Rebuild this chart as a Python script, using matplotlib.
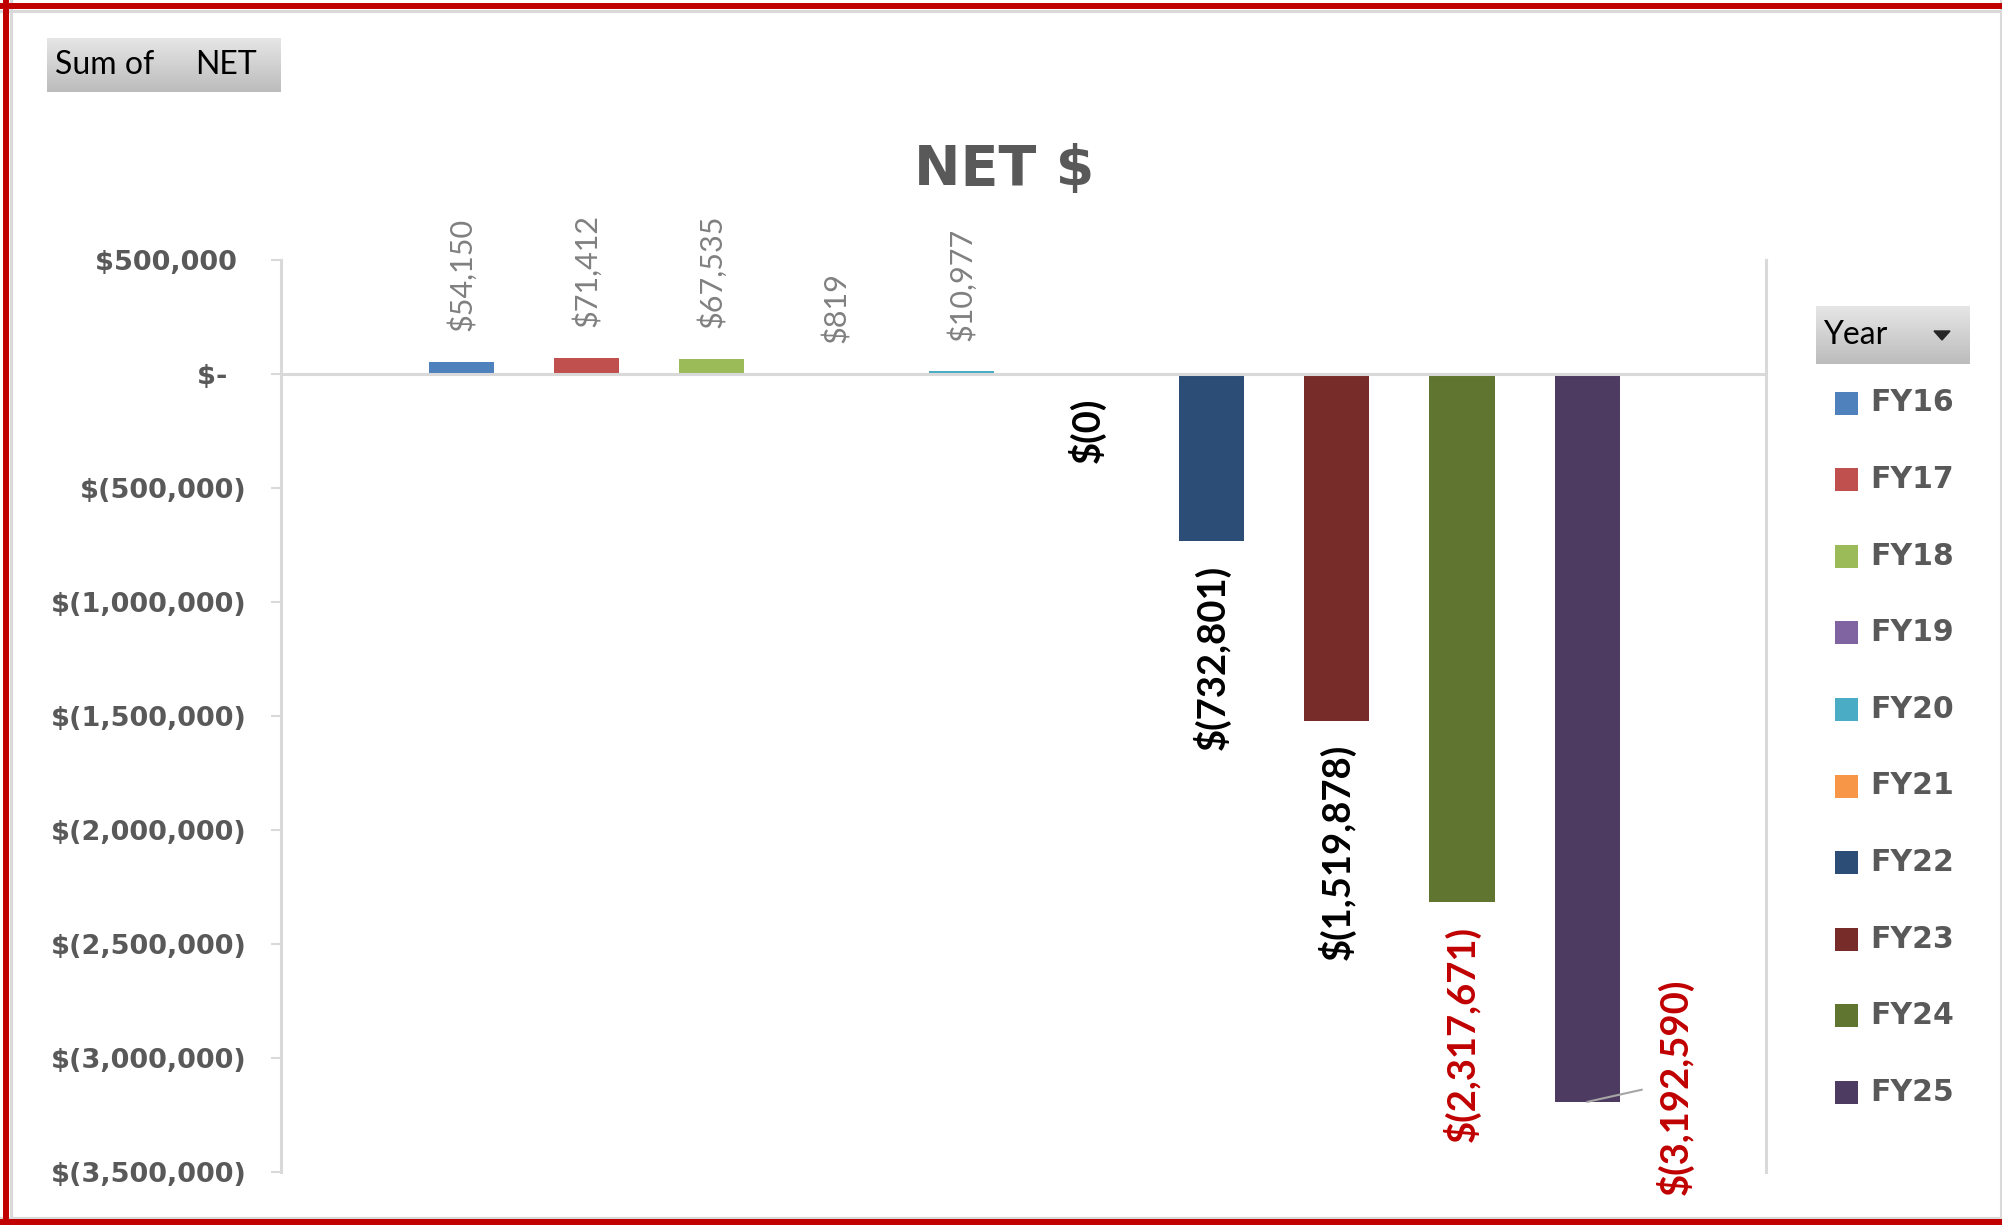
import numpy as np
import matplotlib.pyplot as plt
from matplotlib.patches import Rectangle, Polygon
from matplotlib.lines import Line2D
from matplotlib.colors import LinearSegmentedColormap

# ---- data ---- #
years = ["FY16", "FY17", "FY18", "FY19", "FY20", "FY21", "FY22", "FY23", "FY24", "FY25"]
net = [54150, 71412, 67535, 819, 10977, -0.3, -732801, -1519878, -2317671, -3192590]
y_ticks = [500000, 0, -500000, -1000000, -1500000, -2000000, -2500000, -3000000, -3500000]

# excel default palette
colors = ["#4f81bd", "#c0504d", "#9bbb59", "#8064a2", "#4bacc6",
          "#f79646", "#2c4d75", "#772c2a", "#5f7530", "#4d3b62"]
label_colors = ["#808080"] * 5 + ["black"] * 3 + ["#c00000"] * 2

W, H = 2002, 1225
GREY_TXT = "#595959"
GREY_LINE = "#d9d9d9"


def fx(x):
    return x / W


def fy(y):
    return 1 - y / H


def money(v):
    if v > 0:
        return f"${v:,.0f}"
    return f"$({-v:,.0f})"


def tick_money(v):
    if v > 0:
        return f"${v:,.0f} "
    if v == 0:
        return "$-  "
    return f"$({-v:,.0f})"


def button(fig, x0, y0, x1, y1):
    bax = fig.add_axes([fx(x0), fy(y1), (x1 - x0) / W, (y1 - y0) / H])
    grad = np.linspace(0, 1, 64).reshape(-1, 1)
    cmap = LinearSegmentedColormap.from_list("btn", ["#e6e6e6", "#bcbcbc"])
    bax.imshow(grad, aspect="auto", cmap=cmap, extent=[0, 1, 0, 1])
    bax.set_axis_off()
    return bax


fig = plt.figure(figsize=(W / 100, H / 100), dpi=100)
ax = fig.add_axes([fx(281), fy(1172), (1766 - 281) / W, (1172 - 260) / H])

x = np.arange(len(years))
ax.axhline(0, color=GREY_LINE, lw=2.2, zorder=3)
bars = ax.bar(x, net, width=0.52, color=colors, zorder=2)

ax.set_xlim(-1.44, 10.43)
ax.set_ylim(-3500000, 500000)

# spines / ticks like excel
for s in ["top", "bottom"]:
    ax.spines[s].set_visible(False)
for s in ["left", "right"]:
    ax.spines[s].set_color(GREY_LINE)
    ax.spines[s].set_linewidth(2.2)
ax.set_xticks([])
ax.set_yticks(y_ticks)
ax.set_yticklabels([tick_money(v) for v in y_ticks], fontsize=19.5,
                   fontweight="bold", color=GREY_TXT, family="DejaVu Sans")
ax.tick_params(axis="y", length=7, width=1.5, color=GREY_LINE, pad=18)

# data labels
for i, v in enumerate(net):
    txt = money(v)
    if i == len(net) - 1:
        ax.annotate(txt, xy=(i, v), xytext=(63, 11), textcoords="offset points",
                    rotation=90, ha="center", va="center", color=label_colors[i],
                    fontfamily="Lato", fontweight="bold", fontsize=27.5,
                    arrowprops=dict(arrowstyle="-", color="#a6a6a6", lw=1.5,
                                    relpos=(0, 0.5), shrinkA=8, shrinkB=0))
    elif v > 0:
        ax.annotate(txt, xy=(i, v), xytext=(0, 22), textcoords="offset points",
                    rotation=90, ha="center", va="bottom", color=label_colors[i],
                    fontfamily="Lato", fontweight="normal", fontsize=22)
    else:
        ax.annotate(txt, xy=(i, v), xytext=(0, -17), textcoords="offset points",
                    rotation=90, ha="center", va="top", color=label_colors[i],
                    fontfamily="Lato", fontweight="bold", fontsize=27.5)

# title
fig.text(fx(1004), fy(170), "NET $", ha="center", va="center",
         fontsize=40, fontweight="bold", color=GREY_TXT, family="DejaVu Sans")

# pivot field button
button(fig, 47, 38, 281, 92)
fig.text(fx(55), fy(65), "Sum of", ha="left", va="center", fontsize=23,
         family="Lato", color="black")
fig.text(fx(195), fy(65), "NET", ha="left", va="center", fontsize=23,
         family="Lato", color="black")

# legend with its "Year" button
button(fig, 1816, 306, 1969, 364)
fig.text(fx(1823), fy(335), "Year", ha="left", va="center", fontsize=23,
         family="Lato", color="black")
fig.add_artist(Polygon([[fx(1934), fy(331)], [fx(1950), fy(331)], [fx(1942), fy(340)]],
                       closed=True, color="#262626", transform=fig.transFigure))
for i, (yr, c) in enumerate(zip(years, colors)):
    yc = 403 + 76.6 * i
    fig.add_artist(Rectangle((fx(1835), fy(yc + 11.5)), 23 / W, 23 / H,
                             facecolor=c, edgecolor="none", transform=fig.transFigure))
    fig.text(fx(1870), fy(yc), yr, ha="left", va="center", fontsize=21.5,
             fontweight="bold", color=GREY_TXT, family="DejaVu Sans")

# chart frame: red outline plus light inner border
fig.add_artist(Line2D([0, 1], [fy(11)] * 2, color=GREY_LINE, lw=2.2, transform=fig.transFigure))
fig.add_artist(Line2D([0, 1], [fy(1218)] * 2, color=GREY_LINE, lw=2.2, transform=fig.transFigure))
fig.add_artist(Line2D([fx(10.5)] * 2, [0, 1], color=GREY_LINE, lw=2.2, transform=fig.transFigure))
fig.add_artist(Line2D([fx(2000.5)] * 2, [0, 1], color=GREY_LINE, lw=2.2, transform=fig.transFigure))
fig.add_artist(Line2D([0, 1], [fy(5.5)] * 2, color="#c00000", lw=4.3, transform=fig.transFigure))
fig.add_artist(Line2D([fx(5.5)] * 2, [0, 1], color="#c00000", lw=4.3, transform=fig.transFigure))
fig.add_artist(Line2D([0, 1], [fy(1222)] * 2, color="#c00000", lw=4.3, transform=fig.transFigure))

fig.savefig("out.png", dpi=100)
